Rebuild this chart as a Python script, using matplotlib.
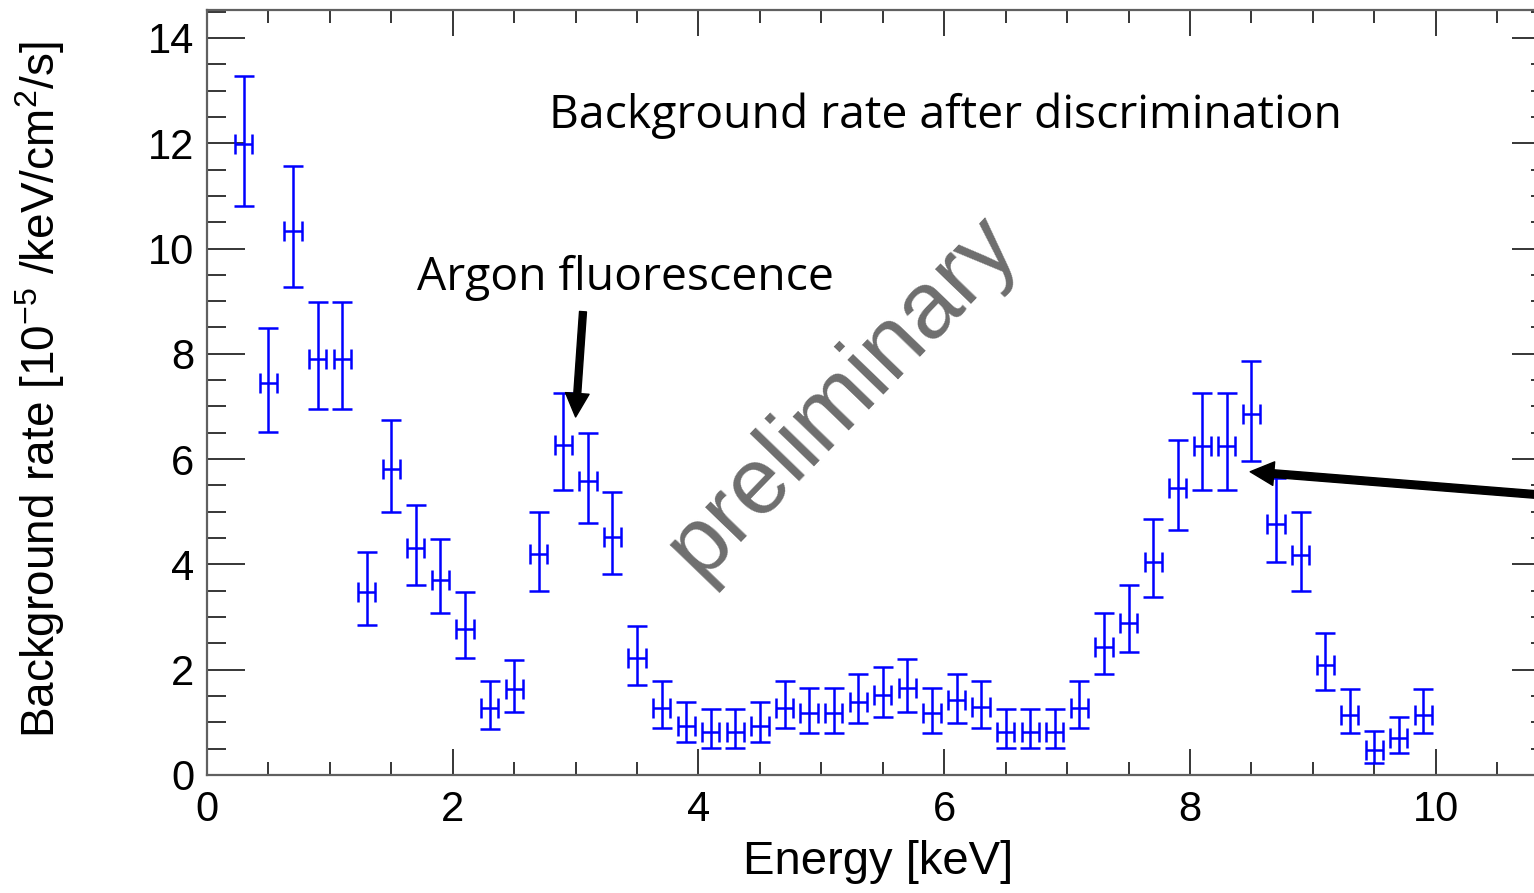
import numpy as np
import matplotlib
matplotlib.use("Agg")
import matplotlib.pyplot as plt
from matplotlib.ticker import MultipleLocator

plt.rcParams['mathtext.default'] = 'regular'

# bin centres [keV] and rate [1e-5 /keV/cm2/s] with lower / upper bounds
energy = [0.3, 0.5, 0.7, 0.9, 1.1, 1.3, 1.5, 1.7, 1.9, 2.1,
          2.3, 2.5, 2.7, 2.9, 3.1, 3.3, 3.5, 3.7, 3.9, 4.1,
          4.3, 4.5, 4.7, 4.9, 5.1, 5.3, 5.5, 5.7, 5.9, 6.1,
          6.3, 6.5, 6.7, 6.9, 7.1, 7.3, 7.5, 7.7, 7.9, 8.1,
          8.3, 8.5, 8.7, 8.9, 9.1, 9.3, 9.5, 9.7, 9.9]
rate = [11.98, 7.45, 10.33, 7.90, 7.90, 3.48, 5.81, 4.31, 3.70, 2.78,
        1.28, 1.64, 4.19, 6.26, 5.59, 4.52, 2.22, 1.27, 0.93, 0.82,
        0.82, 0.93, 1.27, 1.18, 1.18, 1.39, 1.52, 1.65, 1.18, 1.42,
        1.29, 0.82, 0.82, 0.82, 1.27, 2.43, 2.89, 4.05, 5.46, 6.25,
        6.25, 6.85, 4.76, 4.18, 2.09, 1.14, 0.47, 0.70, 1.14]
rate_lo = [10.81, 6.51, 9.26, 6.95, 6.95, 2.85, 4.99, 3.60, 3.07, 2.23,
           0.88, 1.19, 3.50, 5.42, 4.78, 3.81, 1.71, 0.89, 0.63, 0.51,
           0.51, 0.63, 0.89, 0.80, 0.80, 0.99, 1.10, 1.20, 0.80, 0.99,
           0.89, 0.51, 0.51, 0.51, 0.89, 1.92, 2.34, 3.39, 4.66, 5.42,
           5.42, 5.97, 4.04, 3.50, 1.61, 0.79, 0.23, 0.41, 0.79]
rate_hi = [13.27, 8.49, 11.56, 8.98, 8.98, 4.24, 6.74, 5.13, 4.48, 3.47,
           1.79, 2.19, 5.00, 7.25, 6.50, 5.37, 2.83, 1.79, 1.39, 1.25,
           1.25, 1.39, 1.79, 1.65, 1.65, 1.92, 2.05, 2.20, 1.65, 1.92,
           1.79, 1.25, 1.25, 1.25, 1.79, 3.08, 3.61, 4.86, 6.36, 7.25,
           7.25, 7.86, 5.64, 5.00, 2.70, 1.64, 0.84, 1.10, 1.64]
e_err = 0.07

x = np.array(energy)
y = np.array(rate)
yerr = [y - np.array(rate_lo), np.array(rate_hi) - y]

fig = plt.figure(figsize=(15.34, 8.93), dpi=100)
# right part of the frame runs off the picture, as in the original
ax = fig.add_axes([207 / 1534, 118 / 893, 1343 / 1534, 765 / 893])

ax.errorbar(x, y, xerr=e_err, yerr=yerr, fmt='none', ecolor='#0000ff',
            elinewidth=1.8, capsize=7.5, capthick=1.8)

ax.set_xlim(0, 10.93)
ax.set_ylim(0, 14.53)
ax.xaxis.set_major_locator(MultipleLocator(2))
ax.xaxis.set_minor_locator(MultipleLocator(0.5))
ax.yaxis.set_major_locator(MultipleLocator(2))
ax.yaxis.set_minor_locator(MultipleLocator(0.5))
ax.tick_params(axis='both', which='both', direction='in', top=True, right=True,
               labelsize=30, width=1.1, color='black')
ax.tick_params(axis='x', which='major', length=18.5, pad=11)
ax.tick_params(axis='x', which='minor', length=9.4)
ax.tick_params(axis='y', which='major', length=27.4, pad=9)
ax.tick_params(axis='y', which='minor', length=13.7)
for lab in ax.get_xticklabels() + ax.get_yticklabels():
    lab.set_family('Liberation Sans')
for sp in ax.spines.values():
    sp.set_color('#606060')
    sp.set_linewidth(1.6)

fig.text(878 / 1534, 1 - 862 / 893, 'Energy [keV]', ha='center', va='center',
         fontsize=34, family='Liberation Sans')
fig.text(40 / 1534, 1 - 390 / 893, r'Background rate [10$^{-5}$ /keV/cm$^{2}$/s]',
         rotation=90, ha='center', va='center', fontsize=33,
         family='Liberation Sans')

fig.text(945 / 1534, 1 - 116 / 893, 'Background rate after discrimination',
         ha='center', va='center', fontsize=33.3, family='Open Sans')
fig.text(625 / 1534, 1 - 278 / 893, 'Argon fluorescence',
         ha='center', va='center', fontsize=33.3, family='Open Sans')
fig.text(842 / 1534, 1 - 396 / 893, 'preliminary', rotation=46,
         ha='center', va='center', fontsize=68, color='#6e6e6e',
         family='Liberation Sans')

ax.annotate('', xy=(3.0, 6.8), xytext=(3.06, 8.8),
            arrowprops=dict(facecolor='black', edgecolor='black', width=5,
                            headwidth=17, headlength=17))
ax.annotate('', xy=(8.49, 5.76), xytext=(11.5, 5.2), annotation_clip=False,
            arrowprops=dict(facecolor='black', edgecolor='black', width=5.5,
                            headwidth=17, headlength=17))

fig.savefig('out.png', dpi=100)
